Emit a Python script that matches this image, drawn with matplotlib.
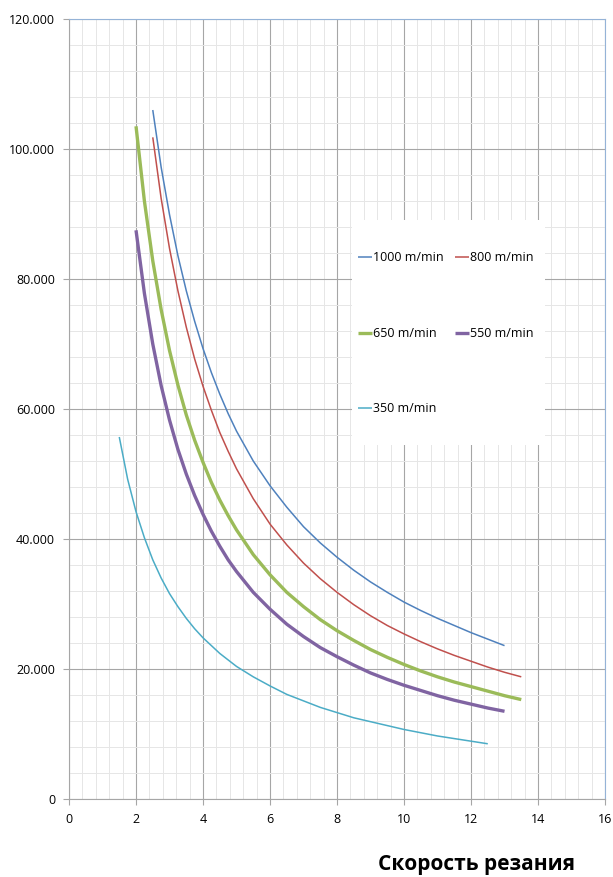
import matplotlib
matplotlib.use("Agg")
import matplotlib.pyplot as plt
from matplotlib.ticker import MultipleLocator, FuncFormatter
from matplotlib.patches import Rectangle

plt.rcParams['font.family'] = ['Open Sans', 'DejaVu Sans']

# feed (x) and resulting values, one series per cutting speed
x_1000 = [2.5, 2.75, 3, 3.25, 3.5, 3.75, 4, 4.25, 4.5, 4.75, 5, 5.5, 6, 6.5, 7, 7.5, 8, 8.5, 9, 9.5,
          10, 10.5, 11, 11.5, 12, 12.5, 13]
y_1000 = [106.0, 97.2, 89.9, 83.6, 78.2, 73.5, 69.3, 65.6, 62.3, 59.3, 56.6, 52.0, 48.2, 44.9, 41.9, 39.4,
          37.2, 35.2, 33.4, 31.8, 30.3, 29.0, 27.8, 26.7, 25.6, 24.6, 23.6]

x_800 = [2.5, 2.75, 3, 3.25, 3.5, 3.75, 4, 4.25, 4.5, 4.75, 5, 5.5, 6, 6.5, 7, 7.5, 8, 8.5, 9, 9.5,
         10, 10.5, 11, 11.5, 12, 12.5, 13, 13.5]
y_800 = [101.8, 92.4, 84.7, 78.2, 72.6, 67.7, 63.5, 59.8, 56.4, 53.5, 50.8, 46.2, 42.3, 39.1, 36.3, 33.9,
         31.8, 29.9, 28.2, 26.7, 25.4, 24.2, 23.1, 22.1, 21.2, 20.3, 19.5, 18.8]

x_650 = [2, 2.25, 2.5, 2.75, 3, 3.25, 3.5, 3.75, 4, 4.25, 4.5, 4.75, 5, 5.5, 6, 6.5, 7, 7.5, 8, 8.5,
         9, 9.5, 10, 10.5, 11, 11.5, 12, 12.5, 13, 13.5]
y_650 = [103.5, 92.0, 82.8, 75.3, 69.0, 63.7, 59.1, 55.2, 51.8, 48.7, 46.0, 43.6, 41.4, 37.6, 34.5, 31.8,
         29.6, 27.6, 25.9, 24.4, 23.0, 21.8, 20.7, 19.7, 18.8, 18.0, 17.3, 16.6, 15.9, 15.3]

x_550 = [2, 2.25, 2.5, 2.75, 3, 3.25, 3.5, 3.75, 4, 4.25, 4.5, 4.75, 5, 5.5, 6, 6.5, 7, 7.5, 8, 8.5,
         9, 9.5, 10, 10.5, 11, 11.5, 12, 12.5, 13]
y_550 = [87.5, 77.8, 70.0, 63.6, 58.3, 53.8, 50.0, 46.7, 43.8, 41.2, 38.9, 36.8, 35.0, 31.8, 29.2, 26.9,
         25.0, 23.3, 21.9, 20.6, 19.4, 18.4, 17.5, 16.7, 15.9, 15.2, 14.6, 14.0, 13.5]

x_350 = [1.5, 1.75, 2, 2.25, 2.5, 2.75, 3, 3.25, 3.5, 3.75, 4, 4.5, 5, 5.5, 6, 6.5, 7, 7.5, 8, 8.5,
         9, 9.5, 10, 10.5, 11, 11.5, 12, 12.5]
y_350 = [55.7, 49.2, 44.2, 40.2, 36.8, 34.0, 31.6, 29.6, 27.8, 26.2, 24.8, 22.4, 20.4, 18.8, 17.4, 16.1,
         15.1, 14.1, 13.3, 12.5, 11.9, 11.3, 10.7, 10.2, 9.7, 9.3, 8.9, 8.5]

labels = ['1000 m/min', '800 m/min', '650 m/min', '550 m/min', '350 m/min']

fig = plt.figure(figsize=(6.13, 8.77), dpi=100)
ax = fig.add_axes([0.1126, 0.0889, 0.8744, 0.8894])

kw = dict(zorder=3, solid_joinstyle='round', solid_capstyle='butt')
l1, = ax.plot(x_1000, y_1000, color='#4F81BD', lw=1.1, label=labels[0], **kw)
l2, = ax.plot(x_800, y_800, color='#C0504D', lw=1.1, label=labels[1], **kw)
l3, = ax.plot(x_650, y_650, color='#9BBB59', lw=2.4, label=labels[2], **kw)
l4, = ax.plot(x_550, y_550, color='#8064A2', lw=2.4, label=labels[3], **kw)
l5, = ax.plot(x_350, y_350, color='#4BACC6', lw=1.1, label=labels[4], **kw)

ax.set_xlim(0, 16)
ax.set_ylim(0, 120)
ax.xaxis.set_major_locator(MultipleLocator(2))
ax.xaxis.set_minor_locator(MultipleLocator(0.4))
ax.yaxis.set_major_locator(MultipleLocator(20))
ax.yaxis.set_minor_locator(MultipleLocator(4))
ax.yaxis.set_major_formatter(FuncFormatter(lambda v, p: '0' if v == 0 else '%.3f' % v))

ax.grid(which='major', color='#A6A6A6', lw=0.8)
ax.grid(which='minor', color='#E6E6E6', lw=0.7)
ax.set_axisbelow(True)
ax.tick_params(which='major', length=4, color='#A6A6A6', labelsize=9, pad=6)
ax.tick_params(which='minor', length=0)

ax.spines['left'].set_color('#A6A6A6')
ax.spines['bottom'].set_color('#A6A6A6')
ax.spines['top'].set_color('#95B3D7')
ax.spines['right'].set_color('#95B3D7')

# white box behind the legend
ax.add_patch(Rectangle((0.528, 0.454), 0.36, 0.288, transform=ax.transAxes,
                       facecolor='white', edgecolor='none', zorder=2.5))

leg = ax.legend([l1, l3, l5, l2, l4], [labels[0], labels[2], labels[4], labels[1], labels[3]],
                ncol=2, loc='upper left', bbox_to_anchor=(0.539, 0.702),
                frameon=False, fontsize=9, handlelength=1.1, handletextpad=0.1,
                labelspacing=5.0, columnspacing=0.9, borderpad=0, borderaxespad=0)

fig.text(0.777, 0.0137, 'Скорость резания', ha='center', va='center',
         fontsize=15, fontweight='bold')

fig.savefig('out.png', dpi=100)
